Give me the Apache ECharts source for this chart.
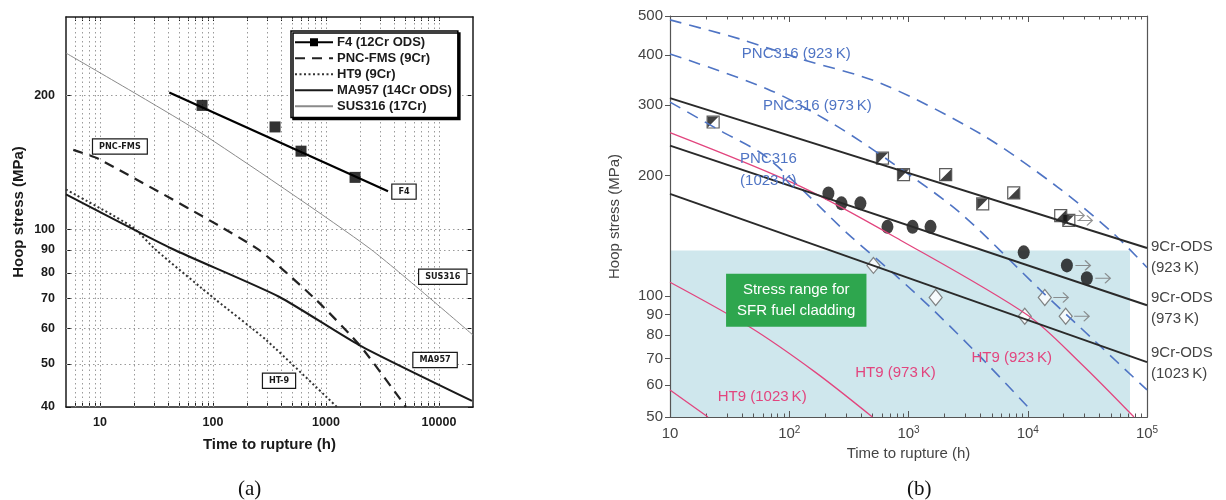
<!DOCTYPE html>
<html><head><meta charset="utf-8">
<script src="https://cdn.jsdelivr.net/npm/echarts@6/dist/echarts.min.js"></script>
<style>html,body{margin:0;padding:0;background:#fff}#c{width:1226px;height:500px}</style>
</head><body><div id="c"></div>
<script>
// ================= Panel (a) =================
const aXLabels = [10, 100, 1000, 10000];
const aYLabels = [40, 50, 60, 70, 80, 90, 100, 200];
const aXGrid = [6, 7, 8, 9, 10, 20, 30, 40, 50, 60, 70, 80, 90, 100, 200, 300, 400, 500, 600, 700, 800, 900,
  1000, 2000, 3000, 4000, 5000, 6000, 7000, 8000, 9000, 10000];
const aYGrid = [50, 60, 70, 80, 90, 100, 200];

const f4Points = [[80, 190], [354, 170], [601, 150], [1808, 131]];
const f4Fit = [[41, 203], [3540, 122]];
const pncFms = [[5.8, 151], [9.8, 144], [240, 91], [817, 69.6], [2040, 54.6], [5100, 40]];
const ht9a = [[5, 123], [19.2, 101.5], [31.3, 90], [106, 69.6], [294, 56.6], [1250, 40]];
const ma957 = [[5, 120], [43.4, 90.6], [384, 70.7], [1960, 55.1], [19600, 41.3]];
const sus316 = [[5, 249], [75, 166], [2400, 91], [20000, 58]];

// ================= Panel (b) =================
const bXLabels = [10, 100, 1000, 10000, 100000];
const bXMinor = [20, 30, 40, 50, 60, 70, 80, 90, 200, 300, 400, 500, 600, 700, 800, 900,
  2000, 3000, 4000, 5000, 6000, 7000, 8000, 9000, 20000, 30000, 40000, 50000, 60000, 70000, 80000, 90000];
const bYLabels = [50, 60, 70, 80, 90, 100, 200, 300, 400, 500];

const pnc923 = [[10, 489], [38.7, 438], [124, 391], [582, 340], [4030, 254], [17900, 187], [52800, 143], [100000, 118]];
const pnc973 = [[10, 402], [65.3, 329], [234, 269], [748, 214], [2740, 161], [12800, 103.5], [35900, 77.7], [100000, 58.4]];
const pnc1023 = [[10, 305], [26.3, 259], [65, 222], [307, 143.5], [748, 114], [1620, 92.3], [4030, 70.5], [10000, 53]];
const ht9_923 = [[10, 256], [124, 188], [857, 138], [10000, 89.7], [27900, 68], [77800, 50]];
const ht9_973 = [[10, 108.4], [47, 83.7], [165, 64.7], [498, 50]];
const ht9_1023 = [[10, 58.4], [20.8, 50]];
const ods923 = [[10, 312], [100000, 132]];
const ods973 = [[10, 237.5], [100000, 95]];
const ods1023 = [[10, 180], [100000, 68.5]];

const sq923A = [[23, 272], [605, 221], [908, 201], [4190, 170], [22100, 154.6]];   // black upper-left half
const sq923B = [[2050, 201], [7630, 181], [18900, 159]];                           // black lower-right half
const circ973 = [[213, 180.5], [274, 170.5], [395, 170.5], [666, 149], [1082, 149], [1530, 149], [9250, 128.7], [21300, 119.4], [31300, 110.9]];
const dia1023 = [[508, 119.4], [1690, 99.3], [9440, 89.2], [13900, 99.3], [20800, 89.2]];
const runouts = [sq923B[2], sq923A[4], circ973[7], circ973[8], dia1023[3], dia1023[4]];
const sfrRange = [[10, 50], [72000, 130]];

// ================= Chart =================
const FONT = 'Liberation Sans';
const INK = '#1a1a1a';
const GRAY = '#555';
const BLUE = '#4f74c4';
const PINK = '#e2457e';

const boldText = { fontFamily: FONT, fontWeight: 'bold', color: INK };
const bText = { fontFamily: FONT, color: '#444' };
const noSym = { color: 'rgba(0,0,0,0)', borderColor: 'rgba(0,0,0,0)', borderWidth: 0 };

function boxLabel(text, coord) {
  return {
    coord: coord,
    label: {
      show: true, position: 'inside', formatter: text,
      backgroundColor: '#fff', borderColor: INK, borderWidth: 1.2,
      padding: [3, 6, 2, 6], fontFamily: 'DejaVu Sans Condensed', fontWeight: 'bold',
      fontSize: 9, color: INK
    }
  };
}
function txtLabel(text, coord, color, extra) {
  return {
    coord: coord,
    label: Object.assign({
      show: true, position: 'inside', formatter: text, fontFamily: FONT,
      fontSize: 15, color: color
    }, extra || {})
  };
}
const mpBase = { symbol: 'circle', symbolSize: 0, silent: true, itemStyle: { color: 'rgba(0,0,0,0)' } };

function aX(pos, labels) {
  return {
    gridIndex: 0, type: 'log', min: 5, max: 20000, position: pos,
    axisLine: { show: true, onZero: false, lineStyle: { color: INK, width: 1.5 } },
    axisTick: { show: true, inside: true, length: 4, customValues: aXGrid, lineStyle: { color: INK, width: 1 } },
    axisLabel: labels ? Object.assign({ show: true, customValues: aXLabels, margin: 9, fontSize: 12.5, formatter: v => String(Math.round(v)) }, boldText) : { show: false },
    splitLine: { show: false },
    name: labels ? 'Time to rupture (h)' : '', nameLocation: 'middle', nameGap: 30,
    nameTextStyle: Object.assign({ fontSize: 15 }, boldText)
  };
}
function aY(pos, labels) {
  return {
    gridIndex: 0, type: 'log', min: 40, max: 300, position: pos,
    axisLine: { show: true, onZero: false, lineStyle: { color: INK, width: 1.5 } },
    axisTick: { show: true, inside: true, length: 5, customValues: aYLabels, lineStyle: { color: INK, width: 1 } },
    axisLabel: labels ? Object.assign({ show: true, customValues: aYLabels, margin: 11, fontSize: 12.5, formatter: v => String(Math.round(v)) }, boldText) : { show: false },
    splitLine: { show: false },
    name: labels ? 'Hoop stress (MPa)' : '', nameLocation: 'middle', nameGap: 40, nameRotate: 90,
    nameTextStyle: Object.assign({ fontSize: 15 }, boldText)
  };
}
function bX(pos, ticks, len, labels) {
  return {
    gridIndex: 1, type: 'log', min: 10, max: 100000, position: pos,
    axisLine: { show: true, onZero: false, lineStyle: { color: GRAY, width: 1.2 } },
    axisTick: { show: true, inside: true, length: len, customValues: ticks, lineStyle: { color: GRAY, width: 1 } },
    axisLabel: labels ? Object.assign({
      show: true, customValues: bXLabels, margin: 8, fontSize: 15,
      formatter: function (v) { return v === 10 ? '{b|10}' : '{b|10}{s|' + Math.round(Math.log10(v)) + '}'; },
      rich: { b: { fontSize: 15, fontFamily: FONT, color: '#444', lineHeight: 18 }, s: { fontSize: 10, fontFamily: FONT, color: '#444', verticalAlign: 'top', lineHeight: 12 } }
    }, bText) : { show: false },
    splitLine: { show: false },
    name: labels ? 'Time to rupture (h)' : '', nameLocation: 'middle', nameGap: 28,
    nameTextStyle: Object.assign({ fontSize: 15 }, bText)
  };
}

const option = {
  animation: false,
  backgroundColor: '#fff',
  title: [
    { text: '(a)', left: 233, top: 474, textStyle: { fontFamily: 'Liberation Serif', fontWeight: 'normal', fontSize: 21, color: '#111' } },
    { text: '(b)', left: 902, top: 474, textStyle: { fontFamily: 'Liberation Serif', fontWeight: 'normal', fontSize: 21, color: '#111' } }
  ],
  grid: [
    { left: 66, top: 17, width: 407, height: 390 },
    { left: 670, top: 16, width: 477, height: 401 }
  ],
  legend: {
    data: [
      { name: 'F4 (12Cr ODS)' },
      { name: 'PNC-FMS (9Cr)', itemStyle: noSym },
      { name: 'HT9 (9Cr)', itemStyle: noSym },
      { name: 'MA957 (14Cr ODS)', itemStyle: noSym },
      { name: 'SUS316 (17Cr)', itemStyle: noSym }
    ],
    orient: 'vertical', left: 291, top: 31, itemWidth: 38, itemHeight: 10, itemGap: 1.5,
    padding: [4, 6, 4, 3], backgroundColor: '#fff', borderColor: '#000', borderWidth: 1.5, borderRadius: 0,
    shadowColor: '#000', shadowOffsetX: 2, shadowOffsetY: 2, shadowBlur: 0,
    selectedMode: false,
    textStyle: Object.assign({ fontSize: 13, lineHeight: 14.5, padding: [0, 0, 0, -1] }, boldText)
  },
  xAxis: [
    aX('bottom', true), aX('top', false),
    bX('bottom', bXLabels, 6, true), bX('bottom', bXMinor, 3.5, false),
    bX('top', bXLabels, 6, false), bX('top', bXMinor, 3.5, false)
  ],
  yAxis: [
    aY('left', true), aY('right', false),
    {
      gridIndex: 1, type: 'log', min: 50, max: 500, position: 'left',
      axisLine: { show: true, onZero: false, lineStyle: { color: GRAY, width: 1.2 } },
      axisTick: { show: true, inside: false, length: 5, customValues: bYLabels, lineStyle: { color: GRAY, width: 1 } },
      axisLabel: Object.assign({ show: true, customValues: bYLabels, margin: 7, fontSize: 15, formatter: v => String(Math.round(v)) }, bText),
      splitLine: { show: false },
      name: 'Hoop stress (MPa)', nameLocation: 'middle', nameGap: 48, nameRotate: 90,
      nameTextStyle: Object.assign({ fontSize: 15 }, bText)
    },
    {
      gridIndex: 1, type: 'log', min: 50, max: 500, position: 'right',
      axisLine: { show: true, onZero: false, lineStyle: { color: GRAY, width: 1.2 } },
      axisTick: { show: false }, axisLabel: { show: false }, splitLine: { show: false }
    }
  ],
  series: [
    // ---------- Panel (a) ----------
    {
      name: 'F4 (12Cr ODS)', type: 'line', xAxisIndex: 0, yAxisIndex: 0, data: f4Fit,
      symbol: 'rect', symbolSize: 10, showSymbol: false, itemStyle: { color: '#000' },
      lineStyle: { color: '#000', width: 2.2 },
      markLine: {
        silent: true, symbol: 'none', z: 1, animation: false,
        label: { show: false },
        lineStyle: { color: '#9a9a9a', width: 1, type: [1.5, 3] },
        data: aXGrid.map(v => ({ xAxis: v })).concat(aYGrid.map(v => ({ yAxis: v })))
      },
      markPoint: Object.assign({ data: [boxLabel('F4', [4900, 121.7])] }, mpBase)
    },
    {
      name: 'F4 (12Cr ODS)', type: 'scatter', xAxisIndex: 0, yAxisIndex: 0, data: f4Points,
      symbol: 'rect', symbolSize: 11, itemStyle: { color: '#000' }
    },
    {
      name: 'PNC-FMS (9Cr)', type: 'line', xAxisIndex: 0, yAxisIndex: 0, data: pncFms,
      symbol: 'none', smooth: 0.2, lineStyle: { color: '#222', width: 2.2, type: [10, 7] }, itemStyle: { color: '#222' },
      markPoint: Object.assign({ data: [boxLabel('PNC-FMS', [15, 153.6])] }, mpBase)
    },
    {
      name: 'HT9 (9Cr)', type: 'line', xAxisIndex: 0, yAxisIndex: 0, data: ht9a,
      symbol: 'none', smooth: 0.2, lineStyle: { color: '#333', width: 2, type: [2, 2.5] }, itemStyle: { color: '#333' },
      markPoint: Object.assign({ data: [boxLabel('HT-9', [384, 45.8])] }, mpBase)
    },
    {
      name: 'MA957 (14Cr ODS)', type: 'line', xAxisIndex: 0, yAxisIndex: 0, data: ma957,
      symbol: 'none', smooth: 0.2, lineStyle: { color: '#1a1a1a', width: 2 }, itemStyle: { color: '#1a1a1a' },
      markPoint: Object.assign({ data: [boxLabel('MA957', [9230, 51])] }, mpBase)
    },
    {
      name: 'SUS316 (17Cr)', type: 'line', xAxisIndex: 0, yAxisIndex: 0, data: sus316,
      symbol: 'none', smooth: 0.2, lineStyle: { color: '#8a8a8a', width: 1 }, itemStyle: { color: '#8a8a8a' },
      markPoint: Object.assign({ data: [boxLabel('SUS316', [10800, 78.4])] }, mpBase)
    },
    // ---------- Panel (b) ----------
    {
      name: 'PNC316 (923 K)', type: 'line', xAxisIndex: 2, yAxisIndex: 2, data: pnc923,
      symbol: 'none', smooth: 0.3, lineStyle: { color: BLUE, width: 1.6, type: [12, 8] },
      markArea: {
        silent: true, z: 0, itemStyle: { color: '#cfe7ed' },
        data: [[{ coord: sfrRange[0] }, { coord: sfrRange[1] }]]
      },
      markPoint: Object.assign({
        data: [
          txtLabel('PNC316 (923\u2009K)', [114.5, 402], BLUE),
          txtLabel('PNC316 (973\u2009K)', [172, 299], BLUE),
          txtLabel('PNC316\n(1023\u2009K)', [38.7, 207], BLUE, { position: 'right', distance: 0, lineHeight: 22 })
        ]
      }, mpBase)
    },
    {
      name: 'PNC316 (973 K)', type: 'line', xAxisIndex: 2, yAxisIndex: 2, data: pnc973,
      symbol: 'none', smooth: 0.3, lineStyle: { color: BLUE, width: 1.6, type: [12, 8] }
    },
    {
      name: 'PNC316 (1023 K)', type: 'line', xAxisIndex: 2, yAxisIndex: 2, data: pnc1023,
      symbol: 'none', smooth: 0.3, lineStyle: { color: BLUE, width: 1.6, type: [12, 8] }
    },
    {
      name: 'HT9 (923 K)', type: 'line', xAxisIndex: 2, yAxisIndex: 2, data: ht9_923,
      symbol: 'none', smooth: 0.3, lineStyle: { color: PINK, width: 1.3 },
      markPoint: Object.assign({
        data: [
          txtLabel('HT9 (923\u2009K)', [7350, 70.1], PINK),
          txtLabel('HT9 (973\u2009K)', [778, 64.3], PINK),
          txtLabel('HT9 (1023\u2009K)', [59.3, 56], PINK)
        ]
      }, mpBase)
    },
    {
      name: 'HT9 (973 K)', type: 'line', xAxisIndex: 2, yAxisIndex: 2, data: ht9_973,
      symbol: 'none', smooth: 0.3, lineStyle: { color: PINK, width: 1.3 }
    },
    {
      name: 'HT9 (1023 K)', type: 'line', xAxisIndex: 2, yAxisIndex: 2, data: ht9_1023,
      symbol: 'none', lineStyle: { color: PINK, width: 1.3 }
    },
    {
      name: '9Cr-ODS (923 K)', type: 'line', xAxisIndex: 2, yAxisIndex: 2, data: ods923,
      symbol: 'none', lineStyle: { color: '#2a2a2a', width: 2 },
      endLabel: { show: true, formatter: '9Cr-ODS\n(923\u2009K)', fontFamily: FONT, fontSize: 15, lineHeight: 21, color: '#444', distance: 4, offset: [0, 9] }
    },
    {
      name: '9Cr-ODS (973 K)', type: 'line', xAxisIndex: 2, yAxisIndex: 2, data: ods973,
      symbol: 'none', lineStyle: { color: '#2a2a2a', width: 2 },
      endLabel: { show: true, formatter: '9Cr-ODS\n(973\u2009K)', fontFamily: FONT, fontSize: 15, lineHeight: 21, color: '#444', distance: 4, offset: [0, 3] }
    },
    {
      name: '9Cr-ODS (1023 K)', type: 'line', xAxisIndex: 2, yAxisIndex: 2, data: ods1023,
      symbol: 'none', lineStyle: { color: '#2a2a2a', width: 2 },
      endLabel: { show: true, formatter: '9Cr-ODS\n(1023\u2009K)', fontFamily: FONT, fontSize: 15, lineHeight: 21, color: '#444', distance: 4, offset: [0, 1] },
      markPoint: Object.assign({
        data: [{
          coord: [114.5, 97.7],
          label: {
            show: true, position: 'inside', formatter: 'Stress range for\nSFR fuel cladding',
            backgroundColor: '#2ea64e', padding: [6, 11, 5, 11], fontFamily: FONT, fontSize: 15,
            lineHeight: 21, color: '#fff', align: 'center'
          }
        }]
      }, mpBase)
    },
    {
      name: 'sq923', type: 'scatter', xAxisIndex: 2, yAxisIndex: 2, data: sq923A.concat(sq923B),
      symbol: 'rect', symbolSize: 12, itemStyle: { color: '#fff', borderColor: '#333', borderWidth: 1.2 }
    },
    {
      name: 'sq923A', type: 'scatter', xAxisIndex: 2, yAxisIndex: 2, data: sq923A,
      symbol: 'path://M0,0L10,0L0,10Z', symbolSize: 11, itemStyle: { color: '#111' }
    },
    {
      name: 'sq923B', type: 'scatter', xAxisIndex: 2, yAxisIndex: 2, data: sq923B,
      symbol: 'path://M10,0L10,10L0,10Z', symbolSize: 11, itemStyle: { color: '#111' }
    },
    {
      name: 'circ973', type: 'scatter', xAxisIndex: 2, yAxisIndex: 2, data: circ973,
      symbol: 'circle', symbolSize: [12, 14], itemStyle: { color: '#111' }
    },
    {
      name: 'dia1023', type: 'scatter', xAxisIndex: 2, yAxisIndex: 2, data: dia1023,
      symbol: 'diamond', symbolSize: [13, 16], itemStyle: { color: '#fff', borderColor: '#666', borderWidth: 1.2 }
    },
    {
      name: 'runout', type: 'scatter', xAxisIndex: 2, yAxisIndex: 2, data: runouts,
      symbol: 'path://M0,5L14,5M9,1L14,5L9,9', symbolSize: [15, 10], symbolOffset: [16, 0],
      itemStyle: { color: 'rgba(0,0,0,0)', borderColor: '#777', borderWidth: 1.2 }
    }
  ]
};

const chart = echarts.init(document.getElementById('c'), null, { renderer: 'canvas' });
chart.setOption(option);
</script>
</body></html>
